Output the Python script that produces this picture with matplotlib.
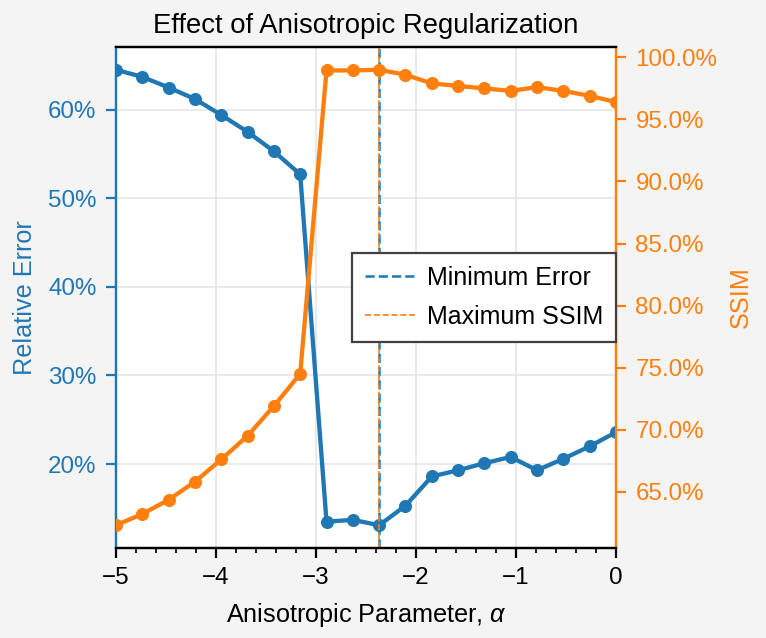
import numpy as np
import matplotlib
matplotlib.use("Agg")
import matplotlib.pyplot as plt
from matplotlib.ticker import PercentFormatter, MultipleLocator

plt.rcParams['font.family'] = ['Liberation Sans', 'DejaVu Sans']
plt.rcParams['mathtext.fontset'] = 'custom'
plt.rcParams['mathtext.it'] = 'Liberation Sans:italic'
plt.rcParams['mathtext.rm'] = 'Liberation Sans'

# anisotropic parameter values
alpha = np.linspace(-5, 0, 20)
rel_error = [0.645, 0.637, 0.625, 0.612, 0.594, 0.575, 0.553, 0.527,
             0.135, 0.137, 0.131, 0.153, 0.186, 0.193, 0.201, 0.208,
             0.193, 0.206, 0.220, 0.236]
ssim = [0.623, 0.632, 0.6435, 0.658, 0.676, 0.695, 0.719, 0.745,
        0.9895, 0.9895, 0.990, 0.986, 0.979, 0.977, 0.975, 0.973,
        0.976, 0.973, 0.969, 0.964]

blue = '#1f77b4'
orange = '#ff7f0e'

best_err = alpha[int(np.argmin(rel_error))]
best_ssim = alpha[int(np.argmax(ssim))]

fig = plt.figure(figsize=(3.83, 3.19), dpi=200, facecolor='#f4f4f4')
ax = fig.add_axes([0.1514, 0.1411, 0.6528, 0.7852])
ax2 = ax.twinx()

ax.plot(alpha, rel_error, '-o', color=blue, lw=1.55, ms=3.7, zorder=3)
ax2.plot(alpha, ssim, '-o', color=orange, lw=1.55, ms=3.7, zorder=3)

l1 = ax2.axvline(best_err, color=blue, ls='--', lw=0.9, label='Minimum Error')
l2 = ax2.axvline(best_ssim, color=orange, ls='--', lw=0.6, label='Maximum SSIM')

ax.set_xlim(-5, 0)
ax.xaxis.set_major_locator(MultipleLocator(1))
ax.xaxis.set_minor_locator(MultipleLocator(0.2))
ax.set_yticks([0.2, 0.3, 0.4, 0.5, 0.6])
ax.yaxis.set_major_formatter(PercentFormatter(xmax=1, decimals=0))
ax2.set_yticks([0.65, 0.70, 0.75, 0.80, 0.85, 0.90, 0.95, 1.0])
ax2.yaxis.set_major_formatter(PercentFormatter(xmax=1, decimals=1))

ax.grid(True, color='#e6e6e6', lw=0.6)
ax.set_axisbelow(True)

fs = 8.7
ax.tick_params(axis='x', which='major', length=3.5, width=0.8, labelsize=fs, direction='out')
ax.tick_params(axis='x', which='minor', length=1.8, width=0.6)
ax.tick_params(axis='y', length=3.5, width=0.8, colors=blue, labelsize=fs)
ax2.tick_params(axis='y', length=3.5, width=0.8, colors=orange, labelsize=fs)
for a in (ax, ax2):
    a.spines['left'].set_color(blue)
    a.spines['right'].set_color(orange)
    for s in a.spines.values():
        s.set_linewidth(0.8)

ax.set_xlabel(r'Anisotropic Parameter, $\alpha$', fontsize=9.1)
ax.set_ylabel('Relative Error', color=blue, fontsize=9.1)
ax2.set_ylabel('SSIM', color=orange, fontsize=9.1)
ax.set_title('Effect of Anisotropic Regularization', fontsize=9.9, pad=5)

leg = ax2.legend(handles=[l1, l2], loc='center right', borderaxespad=0,
                 fontsize=9, fancybox=False, edgecolor='#404040', framealpha=1,
                 handlelength=2.0, handletextpad=0.5, labelspacing=0.62,
                 borderpad=0.5)
leg.get_frame().set_linewidth(0.8)

fig.savefig('out.png', dpi=200, facecolor=fig.get_facecolor())
